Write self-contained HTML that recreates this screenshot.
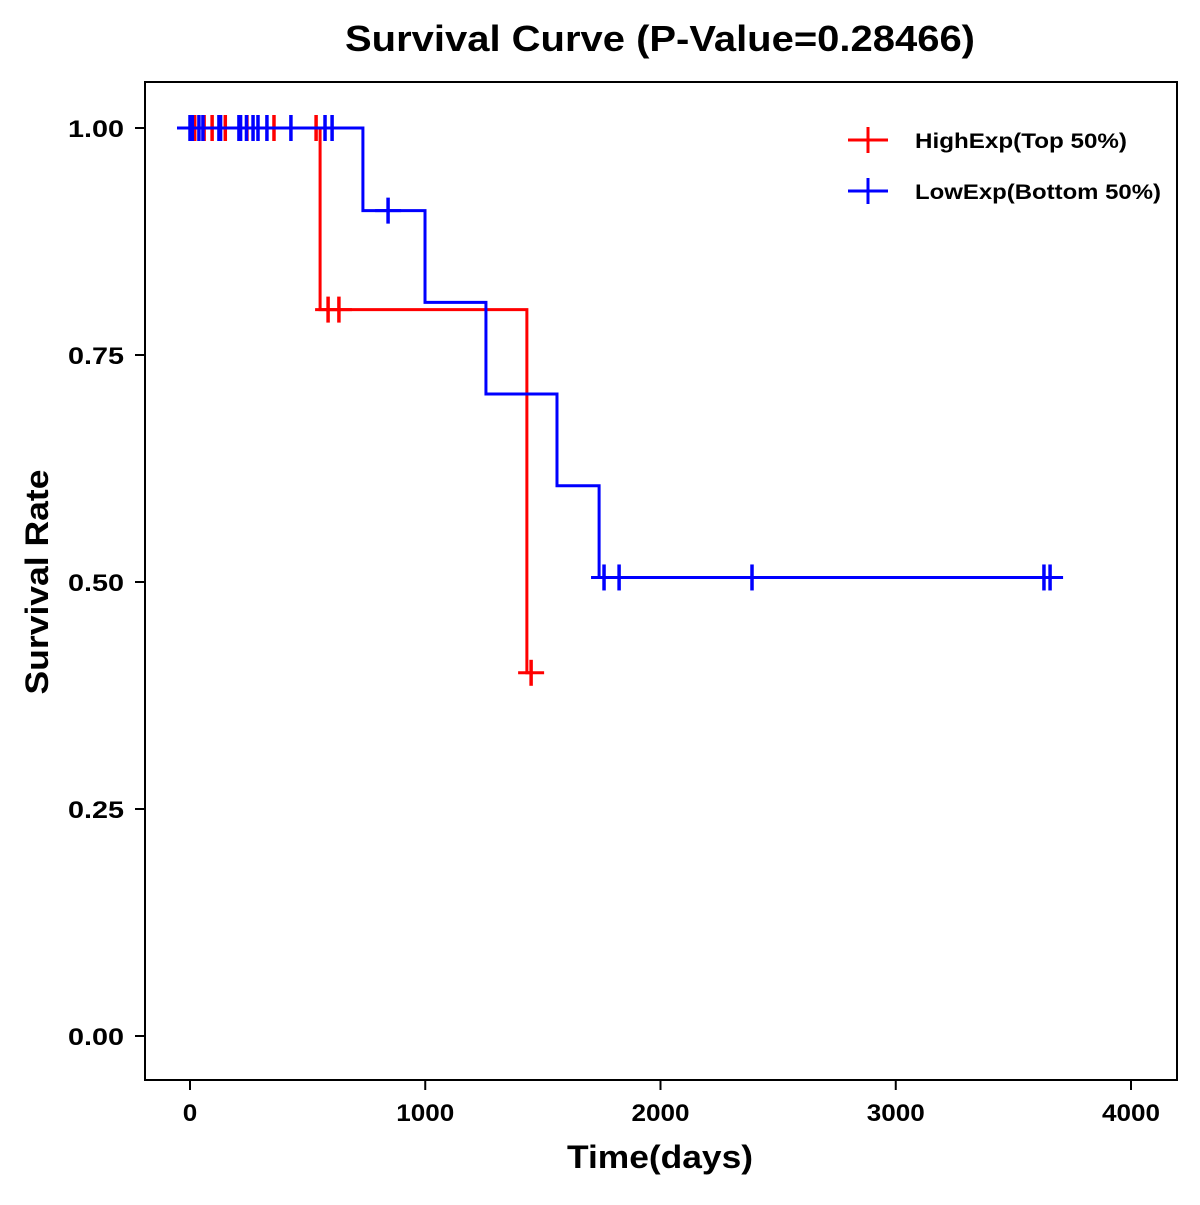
<!DOCTYPE html>
<html><head><meta charset="utf-8"><style>
body{margin:0;background:#fff}
svg text{font-family:"Liberation Sans",Arial,sans-serif;font-weight:bold}
</style></head><body>
<svg id="chart" width="1200" height="1200" viewBox="0 0 1200 1200">
<rect x="0" y="0" width="1200" height="1200" fill="#fff"/>
<text x="660" y="51" font-size="36" text-anchor="middle" textLength="630" lengthAdjust="spacingAndGlyphs">Survival Curve (P-Value=0.28466)</text>
<rect x="145" y="82" width="1032" height="998" fill="none" stroke="#000" stroke-width="2"/>
<g id="axes"></g>
<g id="series"></g>
<text x="660" y="1168" font-size="32" text-anchor="middle" textLength="186" lengthAdjust="spacingAndGlyphs">Time(days)</text>
<text x="48" y="582" font-size="32" text-anchor="middle" textLength="225" lengthAdjust="spacingAndGlyphs" transform="rotate(-90 48 582)">Survival Rate</text>
<g>
<g>
<line x1="848" y1="140" x2="888" y2="140" stroke="#f00" stroke-width="3"/><line x1="868" y1="127" x2="868" y2="153" stroke="#f00" stroke-width="3"/>
<text x="915" y="148" font-size="21" textLength="212" lengthAdjust="spacingAndGlyphs">HighExp(Top 50%)</text></g>
<g>
<line x1="848" y1="191" x2="888" y2="191" stroke="#00f" stroke-width="3"/><line x1="868" y1="178" x2="868" y2="204" stroke="#00f" stroke-width="3"/>
<text x="915" y="199" font-size="21" textLength="246" lengthAdjust="spacingAndGlyphs">LowExp(Bottom 50%)</text></g>
</g>
</svg>
<script>
const xTicks=[0,1000,2000,3000,4000];
const yTicks=[0,0.25,0.5,0.75,1.0];
const yTickLabels=["0.00","0.25","0.50","0.75","1.00"];
const highTimes=[0,553,1432];
const highSurv=[1.0,0.8,0.4];
const highEnd=1450;
const highCensor=[20,60,94,150,242,357,536,587,633,1450];
const highCensorSurv=[1,1,1,1,1,1,1,0.8,0.8,0.4];
const lowTimes=[0,735,999,1258,1560,1739];
const lowSurv=[1.0,0.909,0.808,0.707,0.606,0.505];
const lowEnd=3660;
const lowCensor=[0,10,38,55,123,130,208,215,240,268,289,327,429,574,604,842,1760,1824,2389,3630,3656];
const lowCensorSurv=[1,1,1,1,1,1,1,1,1,1,1,1,1,1,1,0.909,0.505,0.505,0.505,0.505,0.505];
const NS="http://www.w3.org/2000/svg";
const X=d=>190+d*(1131-190)/4000;
const Y=s=>1036-s*(1036-128);
function mk(tag,attrs,parent){const e=document.createElementNS(NS,tag);for(const k in attrs)e.setAttribute(k,attrs[k]);parent.appendChild(e);return e;}
const axes=document.getElementById('axes');
xTicks.forEach(t=>{
 const l=mk('line',{x1:X(t),x2:X(t),y1:1080,y2:1090,stroke:'#000','stroke-width':2},axes);
 
 
 const tx=mk('text',{x:X(t),y:1121,'font-size':24,'text-anchor':'middle'},axes);tx.textContent=t;
 tx.setAttribute('textLength',String(t).length*14.5);
 tx.setAttribute('lengthAdjust','spacingAndGlyphs');
 
 
});
yTicks.forEach((t,i)=>{
 const l=mk('line',{x1:135,x2:145,y1:Y(t),y2:Y(t),stroke:'#000','stroke-width':2},axes);
 
 
 const tx=mk('text',{x:124,y:Y(t)+9,'font-size':24,'text-anchor':'end',textLength:56,lengthAdjust:'spacingAndGlyphs'},axes);tx.textContent=yTickLabels[i];
 
 
});
const series=document.getElementById('series');
function drawSeries(times,surv,end,cens,censS,color,name){
 let d='M'+X(times[0])+' '+Y(surv[0]);
 for(let i=1;i<times.length;i++){d+=' H'+X(times[i])+' V'+Y(surv[i]);}
 d+=' H'+X(end);
 const p=mk('path',{d:d,fill:'none',stroke:color,'stroke-width':3},series);
 
 
 cens.forEach((c,i)=>{
  const g=mk('g',{},series);
  
  
  mk('line',{x1:X(c)-13,x2:X(c)+13,y1:Y(censS[i]),y2:Y(censS[i]),stroke:color,'stroke-width':3},g);
  mk('line',{x1:X(c),x2:X(c),y1:Y(censS[i])-13,y2:Y(censS[i])+13,stroke:color,'stroke-width':3.5},g);
 });
}
drawSeries(highTimes,highSurv,highEnd,highCensor,highCensorSurv,'#f00','high-exp');
drawSeries(lowTimes,lowSurv,lowEnd,lowCensor,lowCensorSurv,'#00f','low-exp');
</script>
</body></html>
